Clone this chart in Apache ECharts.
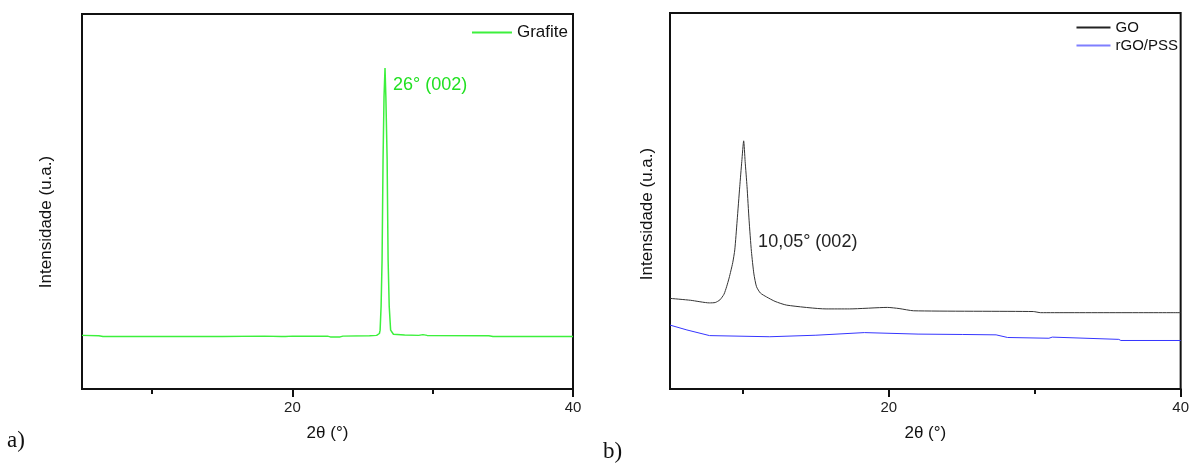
<!DOCTYPE html>
<html>
<head>
<meta charset="utf-8">
<script src="https://cdn.jsdelivr.net/npm/echarts@6/dist/echarts.min.js"></script>
<style>
  html, body { margin: 0; padding: 0; background: #fff; }
  #chart { width: 1192px; height: 465px; }
</style>
</head>
<body>
<div id="chart"></div>
<script>
// a) Grafite
const grafiteX = [5, 6.2, 6.5, 10, 15, 18, 19.2, 19.3, 19.5, 20, 22.5, 22.7, 23.4, 23.6, 25.5, 26.0, 26.2, 26.25, 26.32, 26.39, 26.46, 26.53, 26.6, 26.66, 26.75, 26.82, 26.9, 27.0, 27.2, 28, 29, 29.3, 29.6, 34, 34.3, 40]
const grafiteY = [14.3, 14.2, 14.0, 14.0, 14.0, 14.1, 14.0, 14.2, 14.0, 14.1, 14.1, 13.9, 13.9, 14.1, 14.2, 14.3, 14.8, 15.7, 22, 34.4, 61.3, 78, 85.6, 78, 61.3, 34.4, 22, 15.7, 14.6, 14.4, 14.3, 14.5, 14.3, 14.2, 14.0, 14.0]

// b) GO e rGO/PSS
const goX = [5, 6.4, 7.7, 8.1, 8.42, 8.7, 8.88, 9.05, 9.17, 9.3, 9.44, 9.6, 9.78, 9.92, 10.05, 10.15, 10.28, 10.42, 10.58, 10.75, 10.93, 11.2, 11.61, 12.2, 13.0, 15.7, 17.3, 19.9, 20.7, 21.7, 29.9, 30.4, 40]
const goY = [24.1, 23.6, 22.9, 23.0, 23.7, 25.2, 27.2, 29.5, 31.4, 33.6, 37.0, 44.7, 53.8, 60.5, 66.0, 60.5, 53.8, 44.9, 36.6, 30.6, 27.2, 25.5, 24.5, 23.3, 22.3, 21.3, 21.3, 21.7, 21.4, 20.8, 20.6, 20.3, 20.3]
const rgoX = [5, 6.16, 7.71, 11.84, 15, 18.32, 22, 25.03, 27.35, 28.14, 30.97, 31.2, 31.3, 35.76, 35.9, 40]
const rgoY = [17.0, 15.7, 14.2, 13.9, 14.3, 15.0, 14.6, 14.5, 14.4, 13.7, 13.5, 13.8, 13.5, 13.2, 12.9, 12.9]

const majorTicks = [20, 40]
const minorTicks = [10, 30]

const zip = (xs, ys) => xs.map((x, i) => [x, ys[i]])
const font = 'Liberation Sans, Arial, sans-serif'

// eixo x principal (com rótulos) + eixo só para os ticks menores
const xMain = (gridIndex) => ({
  gridIndex,
  type: 'value',
  min: 5,
  max: 40,
  name: '2θ (°)',
  nameLocation: 'middle',
  nameGap: 36,
  nameTextStyle: { fontSize: 17, color: '#111', fontFamily: font },
  axisLine: { show: true, onZero: false, lineStyle: { color: '#111', width: 2 } },
  axisTick: { show: true, customValues: majorTicks, length: 8, lineStyle: { color: '#111', width: 2 } },
  axisLabel: { customValues: majorTicks, fontSize: 15, color: '#222', margin: 11, fontFamily: font },
  splitLine: { show: false }
})
const xMinor = (gridIndex) => ({
  gridIndex,
  type: 'value',
  min: 5,
  max: 40,
  position: 'bottom',
  offset: 0,
  axisLine: { show: false },
  axisTick: { show: true, customValues: minorTicks, length: 5, lineStyle: { color: '#111', width: 2 } },
  axisLabel: { show: false },
  splitLine: { show: false }
})
const yAxisOf = (gridIndex) => ({
  gridIndex,
  type: 'value',
  min: 0,
  max: 100,
  axisLine: { show: true, onZero: false, lineStyle: { color: '#111', width: 2 } },
  axisTick: { show: false },
  axisLabel: { show: false },
  splitLine: { show: false }
})

const options = {
  animation: false,
  grid: [
    { left: 82, top: 14, width: 491, height: 375, show: true, borderColor: '#111', borderWidth: 2 },
    { left: 670, top: 13, width: 512, height: 376, show: true, borderColor: '#111', borderWidth: 2 }
  ],
  xAxis: [xMain(0), xMinor(0), xMain(1), xMinor(1)],
  yAxis: [yAxisOf(0), yAxisOf(1)],
  legend: [
    {
      data: ['Grafite'],
      right: 624,
      top: 24,
      padding: 0,
      icon: 'rect',
      itemWidth: 40,
      itemHeight: 2,
      textStyle: { fontSize: 17, color: '#111', fontFamily: font }
    },
    {
      data: ['GO', 'rGO/PSS'],
      orient: 'vertical',
      align: 'left',
      right: 14,
      top: 20,
      padding: 0,
      itemGap: 3,
      icon: 'rect',
      itemWidth: 34,
      itemHeight: 2,
      textStyle: { fontSize: 15, color: '#111', fontFamily: font }
    }
  ],
  graphic: [
    {
      type: 'text', x: 46, y: 222, rotation: Math.PI / 2,
      style: { text: 'Intensidade (u.a.)', fontSize: 17, fill: '#111', fontFamily: font, textAlign: 'center', textVerticalAlign: 'middle' }
    },
    {
      type: 'text', x: 647, y: 214, rotation: Math.PI / 2,
      style: { text: 'Intensidade (u.a.)', fontSize: 17, fill: '#111', fontFamily: font, textAlign: 'center', textVerticalAlign: 'middle' }
    },
    {
      type: 'text', x: 7, y: 441,
      style: { text: 'a)', fontSize: 23, fill: '#111', fontFamily: 'Liberation Serif, serif', textVerticalAlign: 'middle' }
    },
    {
      type: 'text', x: 603, y: 452,
      style: { text: 'b)', fontSize: 23, fill: '#111', fontFamily: 'Liberation Serif, serif', textVerticalAlign: 'middle' }
    }
  ],
  series: [
    {
      name: 'Grafite',
      type: 'line',
      xAxisIndex: 0,
      yAxisIndex: 0,
      data: zip(grafiteX, grafiteY),
      showSymbol: false,
      symbol: 'none',
      color: '#3cf03c',
      lineStyle: { color: '#3cf03c', width: 1.5 },
      markPoint: {
        symbol: 'circle',
        symbolSize: 0,
        data: [{ coord: [27.17, 81.1] }],
        label: { show: true, position: 'right', distance: 0, formatter: '26° (002)', fontSize: 18, color: '#22e022', fontFamily: font }
      }
    },
    {
      name: 'GO',
      type: 'line',
      xAxisIndex: 2,
      yAxisIndex: 1,
      data: zip(goX, goY),
      showSymbol: false,
      symbol: 'none',
      smooth: 0.2,
      color: '#222',
      lineStyle: { color: '#333', width: 1 },
      markPoint: {
        symbol: 'circle',
        symbolSize: 0,
        data: [{ coord: [11.04, 39.2] }],
        label: { show: true, position: 'right', distance: 0, formatter: '10,05° (002)', fontSize: 18, color: '#222', fontFamily: font }
      }
    },
    {
      name: 'rGO/PSS',
      type: 'line',
      xAxisIndex: 2,
      yAxisIndex: 1,
      data: zip(rgoX, rgoY),
      showSymbol: false,
      symbol: 'none',
      color: '#7f7fff',
      lineStyle: { color: '#3535ff', width: 1 }
    }
  ]
}

const chart = echarts.init(document.getElementById('chart'))
chart.setOption(options)
window.addEventListener('resize', function () {
  chart && chart.resize()
})
</script>
</body>
</html>
